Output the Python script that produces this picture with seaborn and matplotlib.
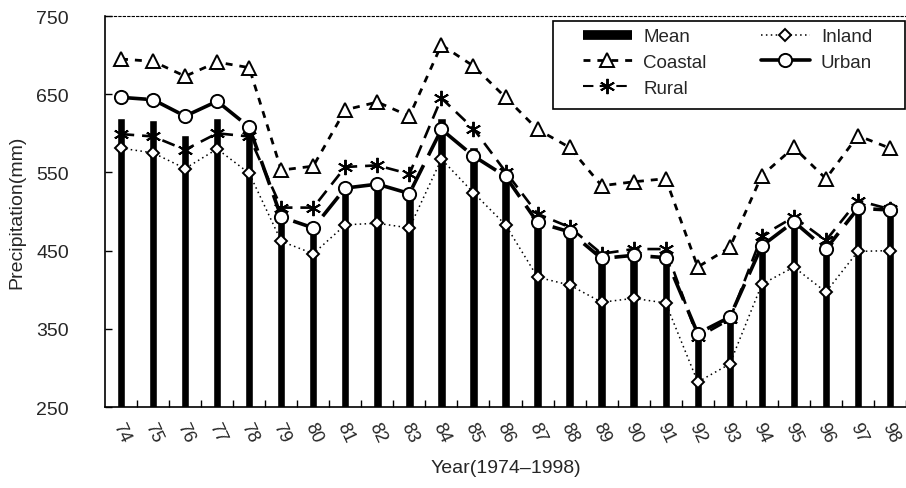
import numpy as np
import pandas as pd
import matplotlib
matplotlib.use("Agg")
import matplotlib.pyplot as plt
import seaborn as sns
from matplotlib.lines import Line2D
from matplotlib.patches import Rectangle

years = ["74", "75", "76", "77", "78", "79", "80", "81", "82", "83", "84", "85", "86",
         "87", "88", "89", "90", "91", "92", "93", "94", "95", "96", "97", "98"]
mean = [620, 617, 598, 620, 604, 494, 484, 533, 537, 525, 619, 582, 547,
        489, 476, 441, 446, 444, 341, 364, 460, 488, 455, 507, 502]
coastal = [695, 692, 673, 691, 684, 553, 558, 630, 640, 622, 713, 686, 646,
           605, 582, 533, 538, 542, 429, 454, 546, 582, 542, 597, 581]
inland = [581, 575, 555, 580, 549, 462, 446, 483, 485, 479, 567, 524, 483,
          416, 406, 384, 389, 383, 282, 305, 407, 429, 397, 449, 450]
urban = [646, 643, 622, 641, 608, 493, 479, 530, 535, 523, 605, 571, 545,
         486, 474, 440, 444, 441, 344, 365, 456, 487, 452, 504, 502]
rural = [599, 596, 579, 600, 596, 505, 505, 557, 559, 548, 645, 606, 551,
         497, 480, 446, 452, 452, 339, 362, 469, 493, 463, 514, 503]
y_ticks = [250, 350, 450, 550, 650, 750]

sns.set_theme(style="white")
plt.rcParams["font.family"] = ["Liberation Sans", "DejaVu Sans"]

df = pd.DataFrame({"year": years, "pos": np.arange(len(years)), "Mean": mean,
                   "Coastal": coastal, "Inland": inland, "Urban": urban, "Rural": rural})

fig = plt.figure(figsize=(9.06, 4.89), dpi=100)
ax = fig.add_axes([0.1159, 0.1656, 0.8841, 0.7996])

sns.barplot(data=df, x="year", y="Mean", color="black", width=0.26,
            saturation=1, ax=ax, zorder=2)

styles = {
    "Inland": dict(marker="D", ms=6.5, lw=1.1, dashes=(1, 2.2)),
    "Coastal": dict(marker="^", ms=9.5, lw=2.0, dashes=(2.5, 2.5)),
    "Rural": dict(marker=(6, 2, 0), ms=11, lw=1.9, dashes=(5, 3)),
    "Urban": dict(marker="o", ms=9.5, lw=2.6, dashes=(7, 3)),
}
for name in ["Inland", "Coastal", "Rural", "Urban"]:
    st = styles[name]
    sns.lineplot(data=df, x="pos", y=name, ax=ax, color="black", lw=st["lw"],
                 marker=st["marker"], markersize=st["ms"], markerfacecolor="white",
                 markeredgecolor="black", markeredgewidth=1.4, zorder=3)
    ax.lines[-1].set_dashes(st["dashes"])

ax.set_ylim(250, 750)
ax.set_yticks(y_ticks)
ax.set_xlim(-0.5, 24.28)
ax.set_xticks(np.arange(len(years)) + 0.5)
ax.set_xticklabels([])
ax.set_xticks(np.arange(len(years)), minor=True)
ax.set_xticklabels(years, minor=True, rotation=-65, ha="center", va="top", fontsize=13)
ax.tick_params(axis="x", which="major", direction="in", length=5, width=1, color="black", bottom=True)
ax.tick_params(axis="x", which="minor", length=0, pad=9, bottom=True)
ax.tick_params(axis="y", direction="in", length=5, width=1, color="black", labelsize=14,
               left=True, pad=26)

ax.set_xlabel("Year(1974\u20131998)", fontsize=14, labelpad=10)
ax.set_ylabel("Precipitation(mm)", fontsize=14, labelpad=8)

for s in ["left", "bottom"]:
    ax.spines[s].set_color("black")
    ax.spines[s].set_linewidth(1.2)
ax.spines["right"].set_visible(False)
ax.spines["top"].set_color("black")
ax.spines["top"].set_linewidth(0.8)
ax.spines["top"].set_linestyle((0, (2, 2)))

# legend frame
frame = Rectangle((0.5593, 0.7621), 0.4395, 0.2251, transform=ax.transAxes,
                  facecolor="white", edgecolor="black", lw=1.2, zorder=4, clip_on=False)
ax.add_patch(frame)

handles = [
    Line2D([], [], color="black", lw=7, solid_capstyle="butt"),
    Line2D([], [], color="black", lw=2.0, dashes=(2.5, 2.5), marker="^", ms=9.5,
           mfc="white", mec="black", mew=1.4),
    Line2D([], [], color="black", lw=1.5, dashes=(5, 3), marker=(6, 2, 0), ms=11,
           mec="black", mew=1.4),
    Line2D([], [], color="black", lw=1.1, dashes=(1, 2.2), marker="D", ms=6.5,
           mfc="white", mec="black", mew=1.4),
    Line2D([], [], color="black", lw=2.6, marker="o", ms=9.5,
           mfc="white", mec="black", mew=1.4),
]
labels = ["Mean", "Coastal", "Rural", "Inland", "Urban"]
leg = ax.legend(handles, labels, ncol=2, loc="upper left",
                bbox_to_anchor=((583 - 105) / 801, (408 - 29) / 391),
                frameon=False, fontsize=13.5,
                handlelength=2.6, columnspacing=2.9, labelspacing=0.46,
                borderpad=0.0, borderaxespad=0.0, handletextpad=0.6)
leg.set_zorder(5)

fig.savefig("out.png", dpi=100)
